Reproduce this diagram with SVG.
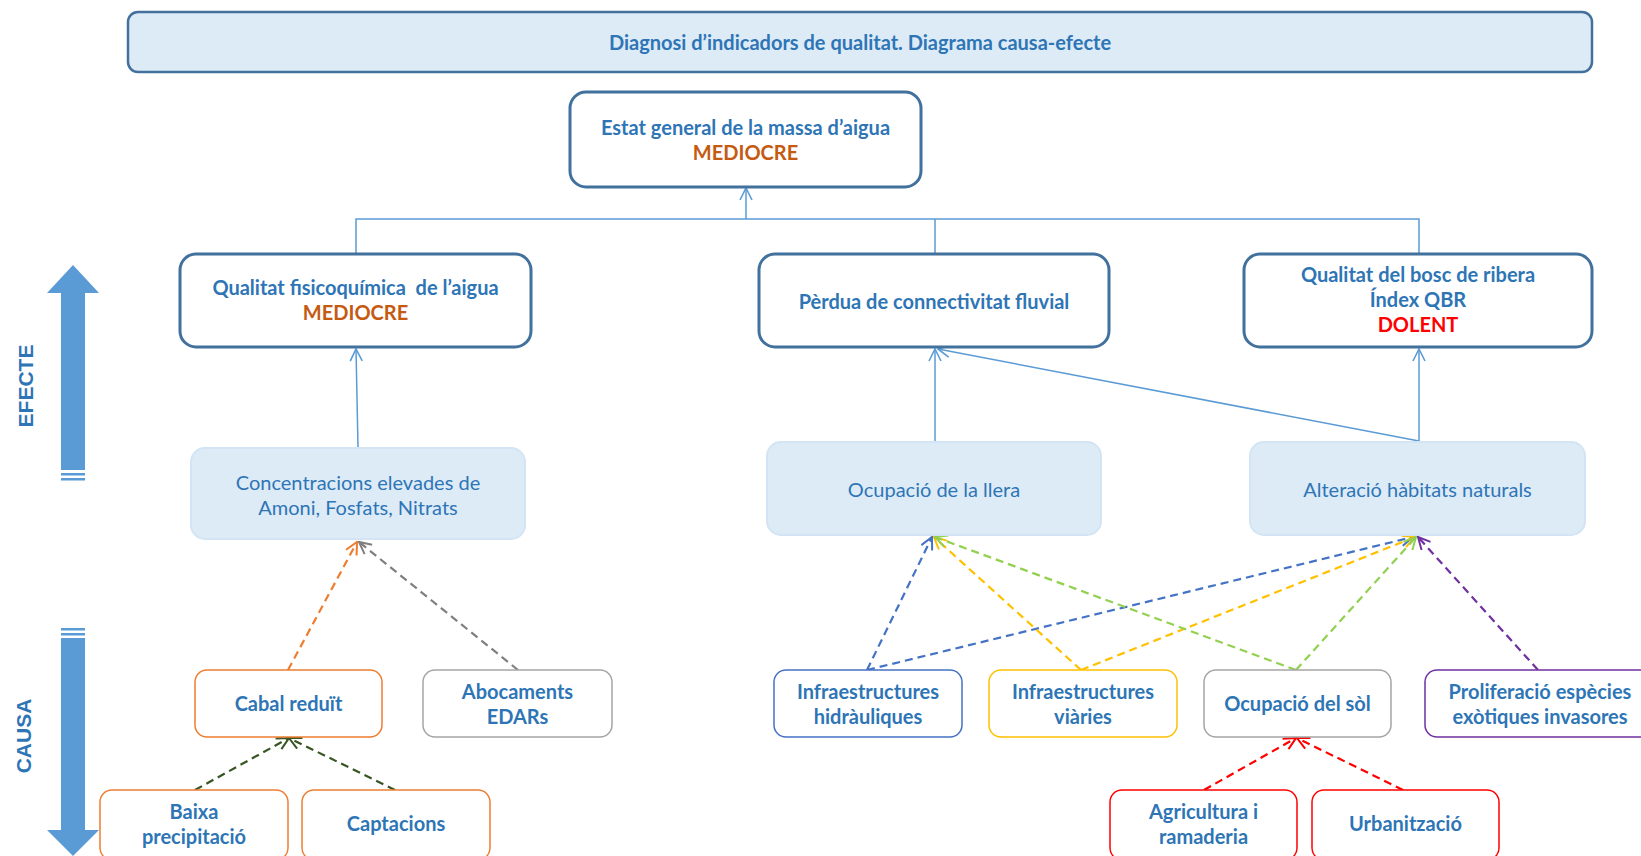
<svg xmlns="http://www.w3.org/2000/svg" width="1641" height="856" viewBox="0 0 1641 856">
<style>
.t{font-family:Lato,"Liberation Sans",sans-serif;font-weight:bold;font-size:20px;fill:#2E75B6;text-anchor:middle}
.r{font-family:Lato,"Liberation Sans",sans-serif;font-size:20px;fill:#2E75B6;text-anchor:middle}
.med{fill:#C55A11}
.dol{fill:#FF0000}
.big{font-family:"Liberation Sans",sans-serif;font-weight:bold;font-size:21px;fill:#2E75B6;text-anchor:middle}
.main{fill:#FFFFFF;stroke:#41719C;stroke-width:3}
.soft{fill:#DDEBF7;stroke:#D3E4F4;stroke-width:2}
.leaf{fill:#FFFFFF;stroke-width:1.5}
.sol{fill:none;stroke:#5B9BD5;stroke-width:1.5}
.d{fill:none;stroke-width:2.2;stroke-dasharray:8 5}
</style>
<defs>
<marker id="a-sol" viewBox="0 0 14 14" refX="13" refY="7" markerWidth="14" markerHeight="14" markerUnits="userSpaceOnUse" orient="auto"><path d="M1,1 L13,7 L1,13" fill="none" stroke="#5B9BD5" stroke-width="1.6"/></marker>
<marker id="a-or" viewBox="0 0 14 14" refX="13" refY="7" markerWidth="14" markerHeight="14" markerUnits="userSpaceOnUse" orient="auto"><path d="M1,1 L13,7 L1,13" fill="none" stroke="#ED7D31" stroke-width="2"/></marker>
<marker id="a-gr" viewBox="0 0 14 14" refX="13" refY="7" markerWidth="14" markerHeight="14" markerUnits="userSpaceOnUse" orient="auto"><path d="M1,1 L13,7 L1,13" fill="none" stroke="#7F7F7F" stroke-width="2"/></marker>
<marker id="a-dg" viewBox="0 0 14 14" refX="13" refY="7" markerWidth="14" markerHeight="14" markerUnits="userSpaceOnUse" orient="auto"><path d="M1,1 L13,7 L1,13" fill="none" stroke="#375623" stroke-width="2"/></marker>
<marker id="a-bl" viewBox="0 0 14 14" refX="13" refY="7" markerWidth="14" markerHeight="14" markerUnits="userSpaceOnUse" orient="auto"><path d="M1,1 L13,7 L1,13" fill="none" stroke="#4472C4" stroke-width="2"/></marker>
<marker id="a-ye" viewBox="0 0 14 14" refX="13" refY="7" markerWidth="14" markerHeight="14" markerUnits="userSpaceOnUse" orient="auto"><path d="M1,1 L13,7 L1,13" fill="none" stroke="#FFC000" stroke-width="2"/></marker>
<marker id="a-lg" viewBox="0 0 14 14" refX="13" refY="7" markerWidth="14" markerHeight="14" markerUnits="userSpaceOnUse" orient="auto"><path d="M1,1 L13,7 L1,13" fill="none" stroke="#92D050" stroke-width="2"/></marker>
<marker id="a-pu" viewBox="0 0 14 14" refX="13" refY="7" markerWidth="14" markerHeight="14" markerUnits="userSpaceOnUse" orient="auto"><path d="M1,1 L13,7 L1,13" fill="none" stroke="#7030A0" stroke-width="2"/></marker>
<marker id="a-re" viewBox="0 0 14 14" refX="13" refY="7" markerWidth="14" markerHeight="14" markerUnits="userSpaceOnUse" orient="auto"><path d="M1,1 L13,7 L1,13" fill="none" stroke="#FF0000" stroke-width="2"/></marker>
</defs>

<g id="title">
<rect x="128" y="12" width="1464" height="60" rx="10" fill="#DDEBF7" stroke="#41719C" stroke-width="2.5"/>
<text class="t" x="860" y="50">Diagnosi d’indicadors de qualitat. Diagrama causa-efecte</text>
</g>

<g id="efecte-arrow">
<path d="M73,265 L99,293 L85,293 L85,470 L61,470 L61,293 L47,293 Z" fill="#5B9BD5"/>
<rect x="61" y="473" width="24" height="2.5" fill="#5B9BD5"/>
<rect x="61" y="478" width="24" height="2.5" fill="#5B9BD5"/>
<text class="big" transform="translate(33,386) rotate(-90)">EFECTE</text>
</g>
<g id="causa-arrow">
<rect x="61" y="628" width="24" height="2.5" fill="#5B9BD5"/>
<rect x="61" y="633" width="24" height="2.5" fill="#5B9BD5"/>
<path d="M61,638 L85,638 L85,830 L99,830 L73,856 L47,830 L61,830 Z" fill="#5B9BD5"/>
<text class="big" transform="translate(31,736) rotate(-90)">CAUSA</text>
</g>

<g id="connectors">
<path class="sol" d="M356,254 V219 H1419 V254 M935,219 V254"/>
<path class="sol" d="M746,219 V188" marker-end="url(#a-sol)"/>
<path class="sol" d="M358,447 L356,349" marker-end="url(#a-sol)"/>
<path class="sol" d="M935,442 V349" marker-end="url(#a-sol)"/>
<path class="sol" d="M1419,442 V349" marker-end="url(#a-sol)"/>
<path class="sol" d="M1419,441 L938,349" marker-end="url(#a-sol)"/>

<path class="d" stroke="#ED7D31" d="M288,670 L357,542" marker-end="url(#a-or)"/>
<path class="d" stroke="#7F7F7F" d="M518,670 L359,542" marker-end="url(#a-gr)"/>
<path class="d" stroke="#375623" d="M195,790 L289,738" marker-end="url(#a-dg)"/>
<path class="d" stroke="#375623" d="M395,790 L289,738" marker-end="url(#a-dg)"/>

<path class="d" stroke="#4472C4" d="M867,670 L932,537" marker-end="url(#a-bl)"/>
<path class="d" stroke="#4472C4" d="M867,670 L1413,537" marker-end="url(#a-bl)"/>
<path class="d" stroke="#FFC000" d="M1081,670 L934,537" marker-end="url(#a-ye)"/>
<path class="d" stroke="#FFC000" d="M1081,670 L1415,537" marker-end="url(#a-ye)"/>
<path class="d" stroke="#92D050" d="M1296,670 L935,537" marker-end="url(#a-lg)"/>
<path class="d" stroke="#92D050" d="M1296,670 L1416,537" marker-end="url(#a-lg)"/>
<path class="d" stroke="#7030A0" d="M1538,670 L1418,537" marker-end="url(#a-pu)"/>
<path class="d" stroke="#FF0000" d="M1204,790 L1296,738" marker-end="url(#a-re)"/>
<path class="d" stroke="#FF0000" d="M1403,790 L1297,738" marker-end="url(#a-re)"/>
</g>

<g id="estat-general">
<rect class="main" x="570" y="92" width="351" height="95" rx="16"/>
<text class="t" x="745.5" y="135">Estat general de la massa d’aigua</text>
<text class="t med" x="745.5" y="160">MEDIOCRE</text>
</g>

<g id="qualitat-fisicoquimica">
<rect class="main" x="180" y="254" width="351" height="93" rx="16"/>
<text class="t" x="355.5" y="295" xml:space="preserve">Qualitat fisicoquímica  de l’aigua</text>
<text class="t med" x="355.5" y="320">MEDIOCRE</text>
</g>

<g id="perdua-connectivitat">
<rect class="main" x="759" y="254" width="350" height="93" rx="16"/>
<text class="t" x="934" y="309">Pèrdua de connectivitat fluvial</text>
</g>

<g id="qualitat-bosc">
<rect class="main" x="1244" y="254" width="348" height="93" rx="16"/>
<text class="t" x="1418" y="282">Qualitat del bosc de ribera</text>
<text class="t" x="1418" y="307">Índex QBR</text>
<text class="t dol" x="1418" y="332">DOLENT</text>
</g>

<g id="concentracions">
<rect class="soft" x="191" y="448" width="334" height="91" rx="14"/>
<text class="r" x="358" y="490">Concentracions elevades de</text>
<text class="r" x="358" y="515">Amoni, Fosfats, Nitrats</text>
</g>

<g id="ocupacio-llera">
<rect class="soft" x="767" y="442" width="334" height="93" rx="14"/>
<text class="r" x="934" y="497">Ocupació de la llera</text>
</g>

<g id="alteracio-habitats">
<rect class="soft" x="1250" y="442" width="335" height="93" rx="14"/>
<text class="r" x="1417.5" y="497">Alteració hàbitats naturals</text>
</g>

<g id="cabal-reduit">
<rect class="leaf" stroke="#ED7D31" x="195" y="670" width="187" height="67" rx="12"/>
<text class="t" x="288.5" y="711">Cabal reduït</text>
</g>

<g id="abocaments">
<rect class="leaf" stroke="#A5A5A5" x="423" y="670" width="189" height="67" rx="12"/>
<text class="t" x="517.5" y="699">Abocaments</text>
<text class="t" x="517.5" y="724">EDARs</text>
</g>

<g id="infra-hidrauliques">
<rect class="leaf" stroke="#4472C4" x="774" y="670" width="188" height="67" rx="12"/>
<text class="t" x="868" y="699">Infraestructures</text>
<text class="t" x="868" y="724">hidràuliques</text>
</g>

<g id="infra-viaries">
<rect class="leaf" stroke="#FFC000" x="989" y="670" width="188" height="67" rx="12"/>
<text class="t" x="1083" y="699">Infraestructures</text>
<text class="t" x="1083" y="724">viàries</text>
</g>

<g id="ocupacio-sol">
<rect class="leaf" stroke="#A5A5A5" x="1204" y="670" width="187" height="67" rx="12"/>
<text class="t" x="1297.5" y="711">Ocupació del sòl</text>
</g>

<g id="proliferacio">
<rect class="leaf" stroke="#7030A0" x="1425" y="670" width="232" height="67" rx="12"/>
<text class="t" x="1540" y="699">Proliferació espècies</text>
<text class="t" x="1540" y="724">exòtiques invasores</text>
</g>

<g id="baixa-precipitacio">
<rect class="leaf" stroke="#ED7D31" x="100" y="790" width="188" height="70" rx="12"/>
<text class="t" x="194" y="819">Baixa</text>
<text class="t" x="194" y="844">precipitació</text>
</g>

<g id="captacions">
<rect class="leaf" stroke="#ED7D31" x="302" y="790" width="188" height="70" rx="12"/>
<text class="t" x="396" y="831">Captacions</text>
</g>

<g id="agricultura">
<rect class="leaf" stroke="#FF0000" x="1110" y="790" width="187" height="70" rx="12"/>
<text class="t" x="1203.5" y="819">Agricultura i</text>
<text class="t" x="1203.5" y="844">ramaderia</text>
</g>

<g id="urbanitzacio">
<rect class="leaf" stroke="#FF0000" x="1312" y="790" width="187" height="70" rx="12"/>
<text class="t" x="1405.5" y="831">Urbanització</text>
</g>
</svg>
